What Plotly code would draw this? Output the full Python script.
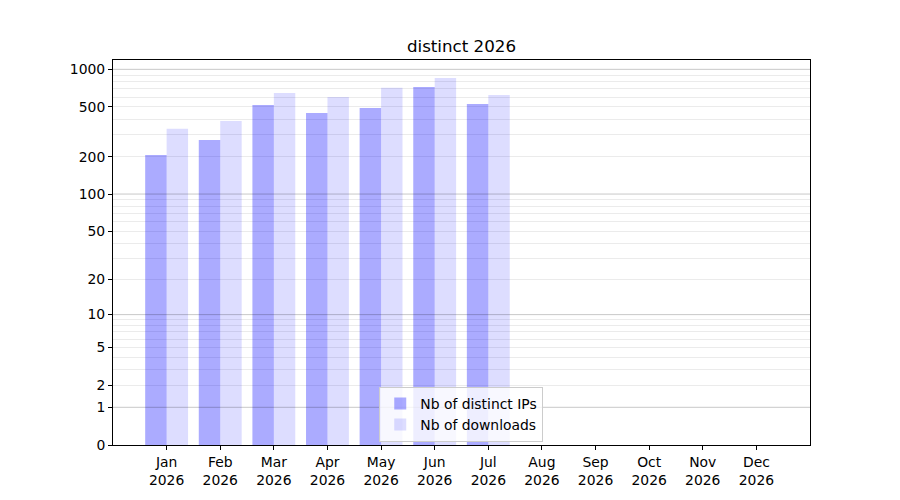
import numpy as np
import plotly.graph_objects as go

# Data
months = ["Jan", "Feb", "Mar", "Apr", "May", "Jun", "Jul", "Aug", "Sep", "Oct", "Nov", "Dec"]
year = "2026"
distinct_ips = [206, 272, 519, 448, 491, 722, 529]
downloads = [334, 386, 648, 601, 712, 853, 624]

y_labels = [0, 1, 2, 5, 10, 20, 50, 100, 200, 500, 1000]
y_major = [1, 10, 100, 1000]
y_minor = [m * 10 ** k for k in range(3) for m in range(2, 10)]


# y scale is log10(1 + v)
def tr(v):
    return np.log10(1 + np.asarray(v, dtype=float))


x_idx = list(range(len(distinct_ips)))
font = "DejaVu Sans"

fig = go.Figure()

fig.add_trace(go.Bar(
    x=x_idx, y=tr(distinct_ips), name="Nb of distinct IPs",
    marker=dict(color="rgba(0,0,255,0.33)", line_width=0),
    customdata=distinct_ips, hovertemplate="%{customdata}<extra></extra>",
))
fig.add_trace(go.Bar(
    x=x_idx, y=tr(downloads), name="Nb of downloads",
    marker=dict(color="rgba(0,0,255,0.135)", line_width=0),
    customdata=downloads, hovertemplate="%{customdata}<extra></extra>",
))

# darker gridlines at the decades
for v in y_major:
    fig.add_shape(type="line", xref="paper", x0=0, x1=1, yref="y",
                  y0=float(tr(v)), y1=float(tr(v)),
                  line=dict(color="rgba(0,0,0,0.22)", width=1), layer="above")

fig.update_layout(
    width=900, height=500,
    margin=dict(l=105, r=98, t=52, b=63),
    paper_bgcolor="white", plot_bgcolor="white",
    font=dict(family=font, size=13.9, color="black"),
    title=dict(text="distinct 2026", x=0.5, xref="paper", xanchor="center",
               y=1 - 38 / 500, yanchor="middle", yref="container",
               font=dict(size=16.7)),
    barmode="group", bargap=0.2, bargroupgap=0,
    showlegend=True,
    legend=dict(x=0.382, y=0.008, xanchor="left", yanchor="bottom",
                bgcolor="rgba(255,255,255,0.8)", bordercolor="#cccccc",
                borderwidth=1, font=dict(size=13.9), tracegroupgap=0,
                itemwidth=30),
)

fig.update_xaxes(
    range=[-1, 12],
    tickmode="array", tickvals=list(range(12)),
    ticktext=[f"{m}<br>{year}" for m in months],
    ticks="outside", ticklen=4, tickcolor="black",
    showline=True, linecolor="black", linewidth=1, mirror=True,
    showgrid=False, zeroline=False,
)

fig.update_yaxes(
    range=[0, 3.075],
    tickmode="array", tickvals=tr(y_labels), ticktext=[str(v) for v in y_labels],
    ticks="outside", ticklen=4, tickcolor="black",
    showline=True, linecolor="black", linewidth=1, mirror=True,
    showgrid=False, zeroline=False,
    minor=dict(tickmode="array", tickvals=tr(y_minor), ticks="",
               showgrid=True, gridcolor="rgba(0,0,0,0.08)", gridwidth=1),
)

fig.write_html("out.html")
